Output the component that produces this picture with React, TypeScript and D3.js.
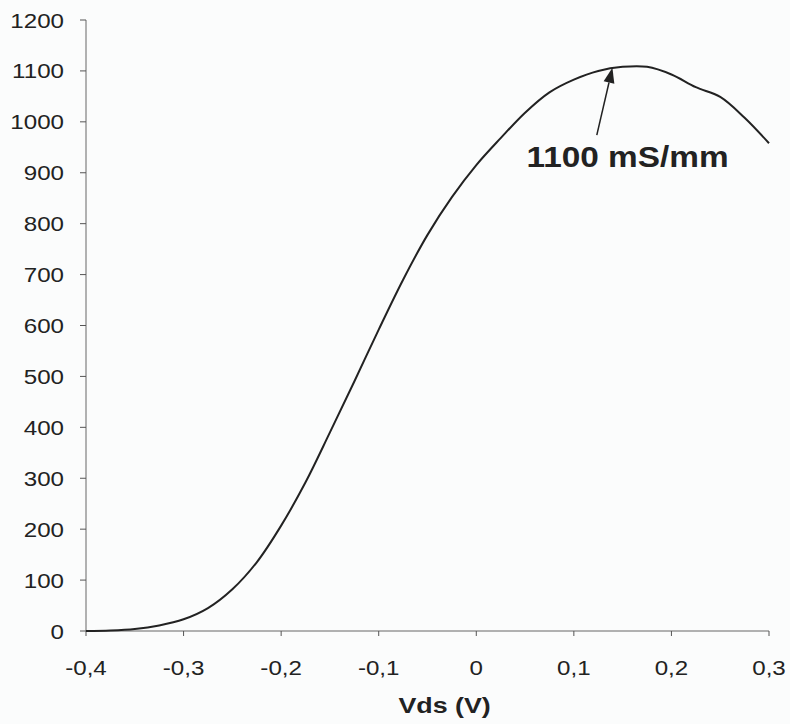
import React from "react";
import * as d3 from "d3";

const vds: number[] = [
  -0.4, -0.375, -0.35, -0.325, -0.3, -0.275, -0.25, -0.225, -0.2, -0.175, -0.15,
  -0.125, -0.1, -0.075, -0.05, -0.025, 0, 0.025, 0.05, 0.075, 0.1, 0.125, 0.15,
  0.175, 0.2, 0.225, 0.25, 0.275, 0.3,
];
const gm: number[] = [
  0, 1, 4, 11, 23, 45, 82, 135, 207, 292, 390, 490, 592, 690, 778, 852, 915, 968,
  1018, 1058, 1083, 1100, 1108, 1108, 1093, 1068, 1049, 1008, 958,
];
const xTicks: number[] = [-0.4, -0.3, -0.2, -0.1, 0, 0.1, 0.2, 0.3];
const xTickLabels: string[] = ["-0,4", "-0,3", "-0,2", "-0,1", "0", "0,1", "0,2", "0,3"];
const yTicks: number[] = [0, 100, 200, 300, 400, 500, 600, 700, 800, 900, 1000, 1100, 1200];
const xTitle = "Vds (V)";
const annText = "1100 mS/mm";
const annTip: [number, number] = [0.1395, 1106];
const annTail: [number, number] = [0.1235, 974];
const annLabelPos: [number, number] = [0.155, 911];

const W = 790;
const H = 724;
const FONT = "'Liberation Sans', Arial, Helvetica, sans-serif";
const INK = "#222";
const SX = 1.15;

export default function App() {
  const x = d3.scaleLinear().domain([-0.4, 0.3]).range([86, 769]);
  const y = d3.scaleLinear().domain([0, 1200]).range([631, 20]);
  const pts = vds.map((v, i) => [v, gm[i]] as [number, number]);
  const line = d3
    .line<[number, number]>()
    .x((d) => x(d[0]))
    .y((d) => y(d[1]))
    .curve(d3.curveCatmullRom.alpha(0.5));

  const tx = x(annTip[0]);
  const ty = y(annTip[1]);
  const sx = x(annTail[0]);
  const sy = y(annTail[1]);
  const ang = Math.atan2(ty - sy, tx - sx);
  const hl = 15;
  const hw = 5.5;
  const bx = tx - hl * Math.cos(ang);
  const by = ty - hl * Math.sin(ang);
  const head = `M${tx},${ty}L${bx + hw * Math.sin(ang)},${by - hw * Math.cos(ang)}L${
    bx - hw * Math.sin(ang)
  },${by + hw * Math.cos(ang)}Z`;

  return (
    <svg
      width={W}
      height={H}
      viewBox={`0 0 ${W} ${H}`}
      style={{ position: "absolute", left: 0, top: 0, display: "block", background: "#fbfcfc" }}
    >
      <rect x={0} y={0} width={W} height={H} fill="#fbfcfc" />
      {/* Y axis */}
      <line x1={x(-0.4)} x2={x(-0.4)} y1={y(1200)} y2={y(0)} stroke="#666" strokeWidth={1} />
      {yTicks.map((t) => (
        <g key={"y" + t}>
          <line x1={x(-0.4) - 6} x2={x(-0.4)} y1={y(t)} y2={y(t)} stroke="#555" strokeWidth={1} />
          <g transform={`translate(${x(-0.4) - 22},${y(t) + 7.5}) scale(${SX},1)`}>
            <text textAnchor="end" fontFamily={FONT} fontSize={21} fill={INK}>
              {t}
            </text>
          </g>
        </g>
      ))}
      {/* X axis */}
      <line x1={x(-0.4)} x2={x(0.3)} y1={y(0)} y2={y(0)} stroke="#666" strokeWidth={1} />
      {xTicks.map((t, i) => (
        <g key={"x" + t}>
          <line x1={x(t)} x2={x(t)} y1={y(0)} y2={y(0) + 5} stroke="#555" strokeWidth={1} />
          <g transform={`translate(${x(t)},${y(0) + 44}) scale(${SX},1)`}>
            <text textAnchor="middle" fontFamily={FONT} fontSize={21} fill={INK}>
              {xTickLabels[i]}
            </text>
          </g>
        </g>
      ))}
      <g transform={`translate(${x(-0.0325)},${713}) scale(1.22,1)`}>
        <text textAnchor="middle" fontFamily={FONT} fontSize={22} fontWeight="bold" fill={INK}>
          {xTitle}
        </text>
      </g>
      {/* curve */}
      <path d={line(pts) || ""} fill="none" stroke={INK} strokeWidth={2} />
      {/* annotation */}
      <line x1={sx} y1={sy} x2={bx} y2={by} stroke={INK} strokeWidth={1.5} />
      <path d={head} fill={INK} />
      <g transform={`translate(${x(annLabelPos[0])},${y(annLabelPos[1])}) scale(1.15,1)`}>
        <text textAnchor="middle" fontFamily={FONT} fontSize={29} fontWeight="bold" fill={INK}>
          {annText}
        </text>
      </g>
    </svg>
  );
}
